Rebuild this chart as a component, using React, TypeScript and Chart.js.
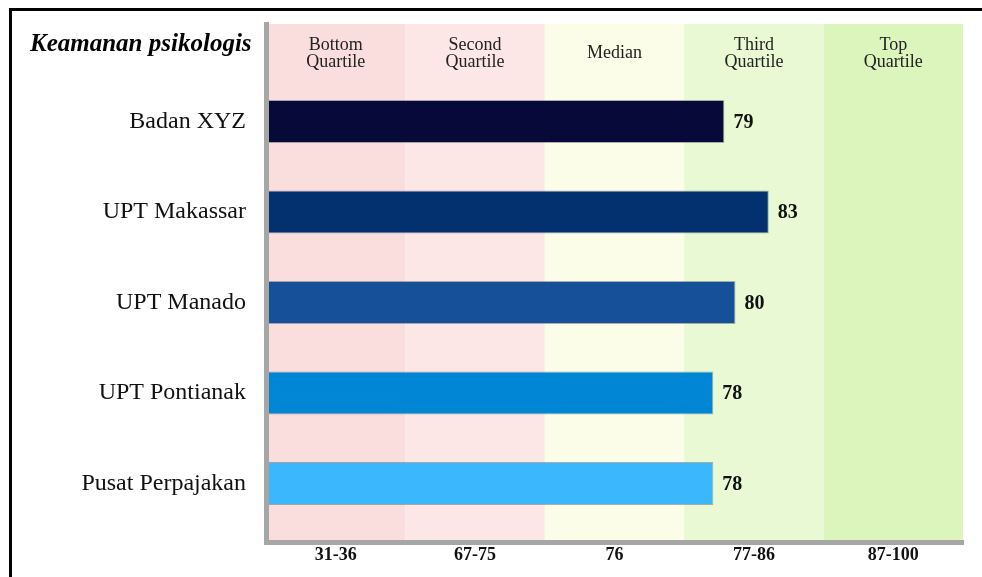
import React, { useEffect, useRef } from 'react';
import { Chart, registerables } from 'chart.js';

Chart.register(...registerables);

const categories = ['Badan XYZ', 'UPT Makassar', 'UPT Manado', 'UPT Pontianak', 'Pusat Perpajakan'];
const values = [79, 83, 80, 78, 78];
const barColors = ['#070a38', '#033170', '#165098', '#0086d4', '#3bb7fd'];
const quartileRanges = ['31-36', '67-75', '76', '77-86', '87-100'];
const quartileHeaders = [['Bottom', 'Quartile'], ['Second', 'Quartile'], ['Median'], ['Third', 'Quartile'], ['Top', 'Quartile']];
const quartileColors = ['#fadddd', '#fce6e6', '#fbfde9', '#e8f9d4', '#dbf5bd'];
const chartTitle = 'Keamanan psikologis';

const FAMILY = '"Liberation Serif", "Times New Roman", serif';

const bandsPlugin = {
  id: 'quartileBands',
  beforeDraw(chart: any) {
    const { ctx, chartArea: a } = chart;
    const xq = chart.scales.xq;
    const w = (a.right - a.left) / quartileRanges.length;
    ctx.save();
    quartileRanges.forEach((_, i) => {
      const c = xq.getPixelForValue(i);
      ctx.fillStyle = quartileColors[i];
      ctx.fillRect(c - w / 2, a.top, w, a.bottom - a.top);
      ctx.fillStyle = '#222';
      ctx.font = '18px ' + FAMILY;
      ctx.textAlign = 'center';
      ctx.textBaseline = 'middle';
      const lines = quartileHeaders[i];
      const lh = 17;
      const y0 = a.top + 29.5 - ((lines.length - 1) * lh) / 2;
      lines.forEach((l, j) => ctx.fillText(l, c, y0 + j * lh));
    });
    ctx.font = 'italic bold 25px ' + FAMILY;
    ctx.textAlign = 'left';
    ctx.textBaseline = 'middle';
    ctx.fillStyle = '#000';
    ctx.fillText(chartTitle, 30, 45);
    ctx.restore();
  },
  afterDatasetsDraw(chart: any) {
    const { ctx } = chart;
    const meta = chart.getDatasetMeta(0);
    ctx.save();
    ctx.font = 'bold 20px ' + FAMILY;
    ctx.fillStyle = '#111';
    ctx.textAlign = 'left';
    ctx.textBaseline = 'middle';
    meta.data.forEach((bar: any, i: number) => {
      ctx.fillText(String(values[i]), bar.x + 9, bar.y + 1);
    });
    ctx.restore();
  },
};

export default function App() {
  const ref = useRef<HTMLCanvasElement>(null);

  useEffect(() => {
    if (!ref.current) return;
    const chart = new Chart(ref.current, {
      type: 'bar',
      data: {
        labels: categories,
        datasets: [
          {
            data: values.map((v, i) => ({ x: v, y: i })) as any,
            backgroundColor: barColors,
            borderColor: 'rgba(90,100,120,0.5)',
            borderWidth: 1,
            barPercentage: 0.475,
            categoryPercentage: 1,
            xAxisID: 'x',
            yAxisID: 'y',
          },
        ],
      },
      options: {
        indexAxis: 'y',
        animation: false,
        responsive: false,
        layout: { padding: { left: 0, right: 19, top: 24, bottom: 10 } },
        plugins: { legend: { display: false }, tooltip: { enabled: false }, title: { display: false } },
        scales: {
          x: { type: 'linear', min: 37.7, max: 100.5, display: false },
          xq: {
            type: 'category',
            labels: quartileRanges,
            position: 'bottom',
            offset: true,
            grid: { display: false, drawTicks: false },
            border: { color: '#a6a6a6', width: 5, z: 1 },
            ticks: { font: { family: FAMILY, size: 18, weight: 'bold' }, color: '#111', padding: 3 },
            afterFit(s: any) { s.height = 25; },
          },
          y: {
            type: 'linear',
            reverse: true,
            offset: false,
            min: -1.077,
            max: 4.646,
            grid: { display: false, drawTicks: false, offset: false },
            border: { color: '#a6a6a6', width: 5, z: 1 },
            ticks: {
              stepSize: 1,
              includeBounds: false,
              autoSkip: false,
              callback: (v: any) => (Number.isInteger(v) && categories[v] ? categories[v] : ''),
              font: { family: FAMILY, size: 24 },
              color: '#111',
              padding: 20,
            },
            afterFit(s: any) { s.width = 266; s.paddingTop = 0; s.paddingBottom = 0; },
          },
        } as any,
      },
      plugins: [bandsPlugin],
    });
    return () => chart.destroy();
  }, []);

  return (
    <>
      <div
        style={{
          position: 'fixed',
          left: 9,
          top: 8,
          width: 1200,
          height: 1000,
          borderLeft: '3px solid #000',
          borderTop: '3px solid #000',
        }}
      />
      <canvas
        ref={ref}
        width={982}
        height={577}
        style={{ position: 'fixed', left: 0, top: 0, width: 982, height: 577 }}
      />
    </>
  );
}
